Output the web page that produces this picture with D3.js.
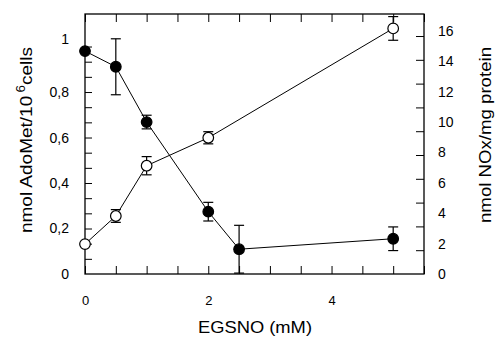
<!DOCTYPE html>
<html>
<head>
<meta charset="utf-8">
<script src="https://cdn.jsdelivr.net/npm/d3@7"></script>
<style>
  body { margin: 0; background: #fff; }
  svg { display: block; font-family: Arial, 'Liberation Sans', sans-serif; }
</style>
</head>
<body>
<div id="chart"></div>
<script>
// EGSNO dose (mM)
const doses = [0, 0.5, 1, 2, 2.5, 5];
// AdoMet, nmol/10^6 cells (filled circles, left axis)
const adoMet = [0.98, 0.911, 0.668, 0.274, 0.109, 0.155];
const adoMetErr = [0, 0.123, 0.03, 0.041, 0.105, 0.052];
// NOx, nmol/mg protein (open circles, right axis)
const noxDoses = [0, 0.5, 1, 2, 5];
const nox = [1.97, 3.82, 7.13, 8.97, 16.17];
const noxErr = [0, 0.42, 0.6, 0.4, 0.78];

const xTickLabels = [0, 2, 4];
const xMinorTicks = d3.range(0, 5.51, 0.5);
const leftTickLabels = [0, 0.2, 0.4, 0.6, 0.8, 1];
const leftMinorTicks = d3.range(1, 16).map((i) => i / 15);
const rightTickLabels = [0, 2, 4, 6, 8, 10, 12, 14, 16];
const rightMinorTicks = d3.range(1, 11).map((i) => i * 1.567);

const width = 495;
const height = 337;
const margin = { top: 14, right: 71, bottom: 63, left: 85 };
const iw = width - margin.left - margin.right;
const ih = height - margin.top - margin.bottom;

const svg = d3.select('#chart').append('svg').attr('width', width).attr('height', height);
const g = svg.append('g').attr('transform', `translate(${margin.left},${margin.top})`);

const x = d3.scaleLinear().domain([0, 5.5]).range([0, iw]);
const yL = d3.scaleLinear().domain([0, 1.143]).range([ih, 0]);
const yR = d3.scaleLinear().domain([0, 17.12]).range([ih, 0]);

// --- inward tick marks ---
function ticksOnly(axis, values, size) {
  return axis.tickValues(values).tickSizeInner(-size).tickSizeOuter(0).tickFormat('');
}
g.append('g').attr('transform', `translate(0,${ih})`).call(ticksOnly(d3.axisBottom(x), xMinorTicks, 8));
g.append('g').call(ticksOnly(d3.axisTop(x), xMinorTicks, 8));
g.append('g').call(ticksOnly(d3.axisLeft(yL), leftMinorTicks, 7));
g.append('g').attr('transform', `translate(${iw},0)`).call(ticksOnly(d3.axisRight(yR), rightMinorTicks, 8));

// --- tick labels ---
const xLab = g.append('g').attr('transform', `translate(0,${ih})`)
  .call(d3.axisBottom(x).tickValues(xTickLabels).tickSize(0).tickPadding(22).tickFormat(d3.format('d')));
xLab.selectAll('text').style('font-size', '13px');

const lLab = g.append('g')
  .call(d3.axisLeft(yL).tickValues(leftTickLabels).tickSize(0).tickPadding(16)
    .tickFormat((d) => (d === 0 || d === 1 ? String(d) : d3.format('.1f')(d).replace('.', ','))));
lLab.selectAll('text').style('font-size', '14px');
// the "1" label sits a little high in the original
lLab.selectAll('.tick').filter((d) => d === 1).select('text').attr('dy', '-0.25em');

const rLab = g.append('g').attr('transform', `translate(${iw},0)`)
  .call(d3.axisRight(yR).tickValues(rightTickLabels).tickSize(0).tickPadding(14));
rLab.selectAll('text').style('font-size', '14px');

[xLab, lLab, rLab].forEach((a) => a.selectAll('text').attr('fill', '#000'));
g.selectAll('.domain').remove();
g.selectAll('.tick line').attr('stroke', '#000').attr('stroke-width', 1);

// frame
g.append('rect').attr('width', iw).attr('height', ih)
  .attr('fill', 'none').attr('stroke', '#000').attr('stroke-width', 1.3);

// --- series ---
const adoData = doses.map((d, i) => ({ x: d, y: adoMet[i], e: adoMetErr[i] }));
const noxData = noxDoses.map((d, i) => ({ x: d, y: nox[i], e: noxErr[i] }));

function drawSeries(data, yScale, fill) {
  const s = g.append('g');
  s.append('path').datum(data)
    .attr('fill', 'none').attr('stroke', '#000').attr('stroke-width', 1)
    .attr('d', d3.line().x((d) => x(d.x)).y((d) => yScale(d.y)));

  const eb = s.selectAll('.err').data(data.filter((d) => d.e > 0)).join('g')
    .attr('stroke', '#000').attr('stroke-width', 1.2);
  eb.append('line')
    .attr('x1', (d) => x(d.x)).attr('x2', (d) => x(d.x))
    .attr('y1', (d) => yScale(d.y - d.e)).attr('y2', (d) => yScale(d.y + d.e));
  [1, -1].forEach((sgn) => {
    eb.append('line')
      .attr('x1', (d) => x(d.x) - 5).attr('x2', (d) => x(d.x) + 5)
      .attr('y1', (d) => yScale(d.y + sgn * d.e)).attr('y2', (d) => yScale(d.y + sgn * d.e));
  });

  s.selectAll('circle').data(data).join('circle')
    .attr('cx', (d) => x(d.x)).attr('cy', (d) => yScale(d.y)).attr('r', 5.3)
    .attr('fill', fill).attr('stroke', '#000').attr('stroke-width', 1.2);
}
drawSeries(noxData, yR, '#fff');
drawSeries(adoData, yL, '#000');

// --- axis titles ---
svg.append('text')
  .attr('x', 255).attr('y', 333).attr('text-anchor', 'middle')
  .attr('textLength', 114).attr('lengthAdjust', 'spacingAndGlyphs')
  .style('font-size', '17px').text('EGSNO (mM)');

const lt = svg.append('text')
  .attr('transform', 'translate(32,140) rotate(-90)')
  .attr('text-anchor', 'middle')
  .attr('textLength', 186).attr('lengthAdjust', 'spacingAndGlyphs')
  .style('font-size', '17px');
lt.append('tspan').text('nmol AdoMet/10');
lt.append('tspan').attr('dx', 3).attr('dy', -7).style('font-size', '12px').text('6');
lt.append('tspan').attr('dy', 7).text('cells');

svg.append('text')
  .attr('transform', 'translate(491,135) rotate(-90)')
  .attr('text-anchor', 'middle')
  .attr('textLength', 176).attr('lengthAdjust', 'spacingAndGlyphs')
  .style('font-size', '17px').text('nmol NOx/mg protein');
</script>
</body>
</html>
